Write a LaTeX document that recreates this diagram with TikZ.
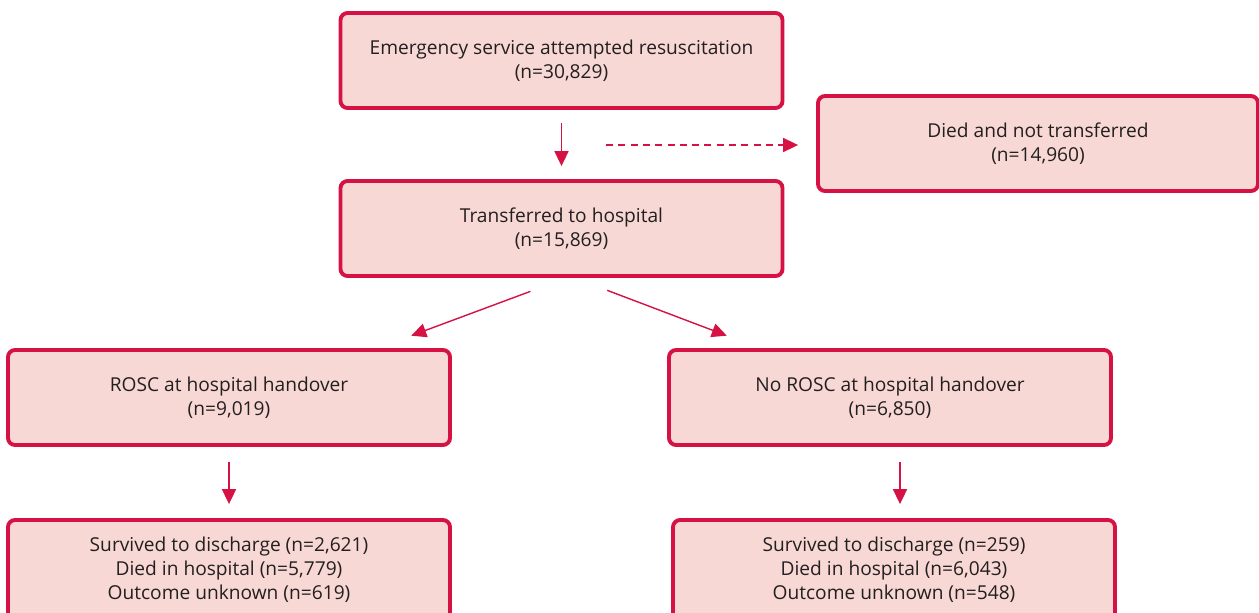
\documentclass[tikz,border=0pt]{standalone}
\usepackage{fontspec}
\setmainfont{Open Sans}
\usepackage{tikz}
\usetikzlibrary{arrows.meta, positioning, calc}
\definecolor{nhsred}{RGB}{213,18,67}
\definecolor{nhspink}{RGB}{247,216,212}
\definecolor{nhstext}{RGB}{35,31,32}

\tikzset{
  flowbox/.style={draw=nhsred, line width=2.2pt, fill=nhspink, rounded corners=4pt,
    minimum width=8.84cm, minimum height=1.9cm, align=center, text=nhstext,
    font=\fontsize{10.9}{13.6}\selectfont},
  flowarrow/.style={->, draw=nhsred, line width=0.8pt}
}

\begin{document}
\begin{tikzpicture}[>={Triangle[length=8.5pt,width=8pt]}]
\useasboundingbox (0,0) rectangle (25.18,-12.24);

% Top of the flow
\node[flowbox] (start) at (11.23,-1.21) {Emergency service attempted resuscitation\\(n=30,829)};
\node[flowbox, minimum width=8.8cm] (died) at (20.76,-2.87) {Died and not transferred\\(n=14,960)};
\node[flowbox] (trans) at (11.23,-4.57) {Transferred to hospital\\(n=15,869)};

% Handover status
\node[flowbox] (rosc) at (4.58,-7.95) {ROSC at hospital handover\\(n=9,019)};
\node[flowbox] (norosc) at (17.8,-7.95) {No ROSC at hospital handover\\(n=6,850)};

% Outcomes
\node[flowbox, minimum height=2cm] (outL) at (4.58,-11.4) {Survived to discharge (n=2,621)\\Died in hospital (n=5,779)\\Outcome unknown (n=619)};
\node[flowbox, minimum height=2cm] (outR) at (17.88,-11.4) {Survived to discharge (n=259)\\Died in hospital (n=6,043)\\Outcome unknown (n=548)};

% Arrows
\coordinate (split) at (12.12,-2.9);
\draw[flowarrow, shorten <=0.26cm, shorten >=0.26cm] (start) -- (start |- trans.north);
\draw[flowarrow, dashed, dash pattern=on 4pt off 3pt] (split) -- ([xshift=-0.36cm]died.west |- split);
\draw[flowarrow, shorten <=0.77cm, shorten >=0.71cm] ([xshift=0.1cm]trans.south) -- ([xshift=2.98cm]rosc.north);
\draw[flowarrow, shorten <=0.7cm, shorten >=0.7cm] ([xshift=0.26cm]trans.south) -- ([xshift=-2.61cm]norosc.north);
\draw[flowarrow, shorten <=0.3cm, shorten >=0.28cm] (rosc) -- (rosc |- outL.north);
\draw[flowarrow, shorten <=0.3cm, shorten >=0.28cm] ([xshift=0.12cm]outR.north |- norosc.south) -- ([xshift=0.12cm]outR.north);
\end{tikzpicture}
\end{document}
